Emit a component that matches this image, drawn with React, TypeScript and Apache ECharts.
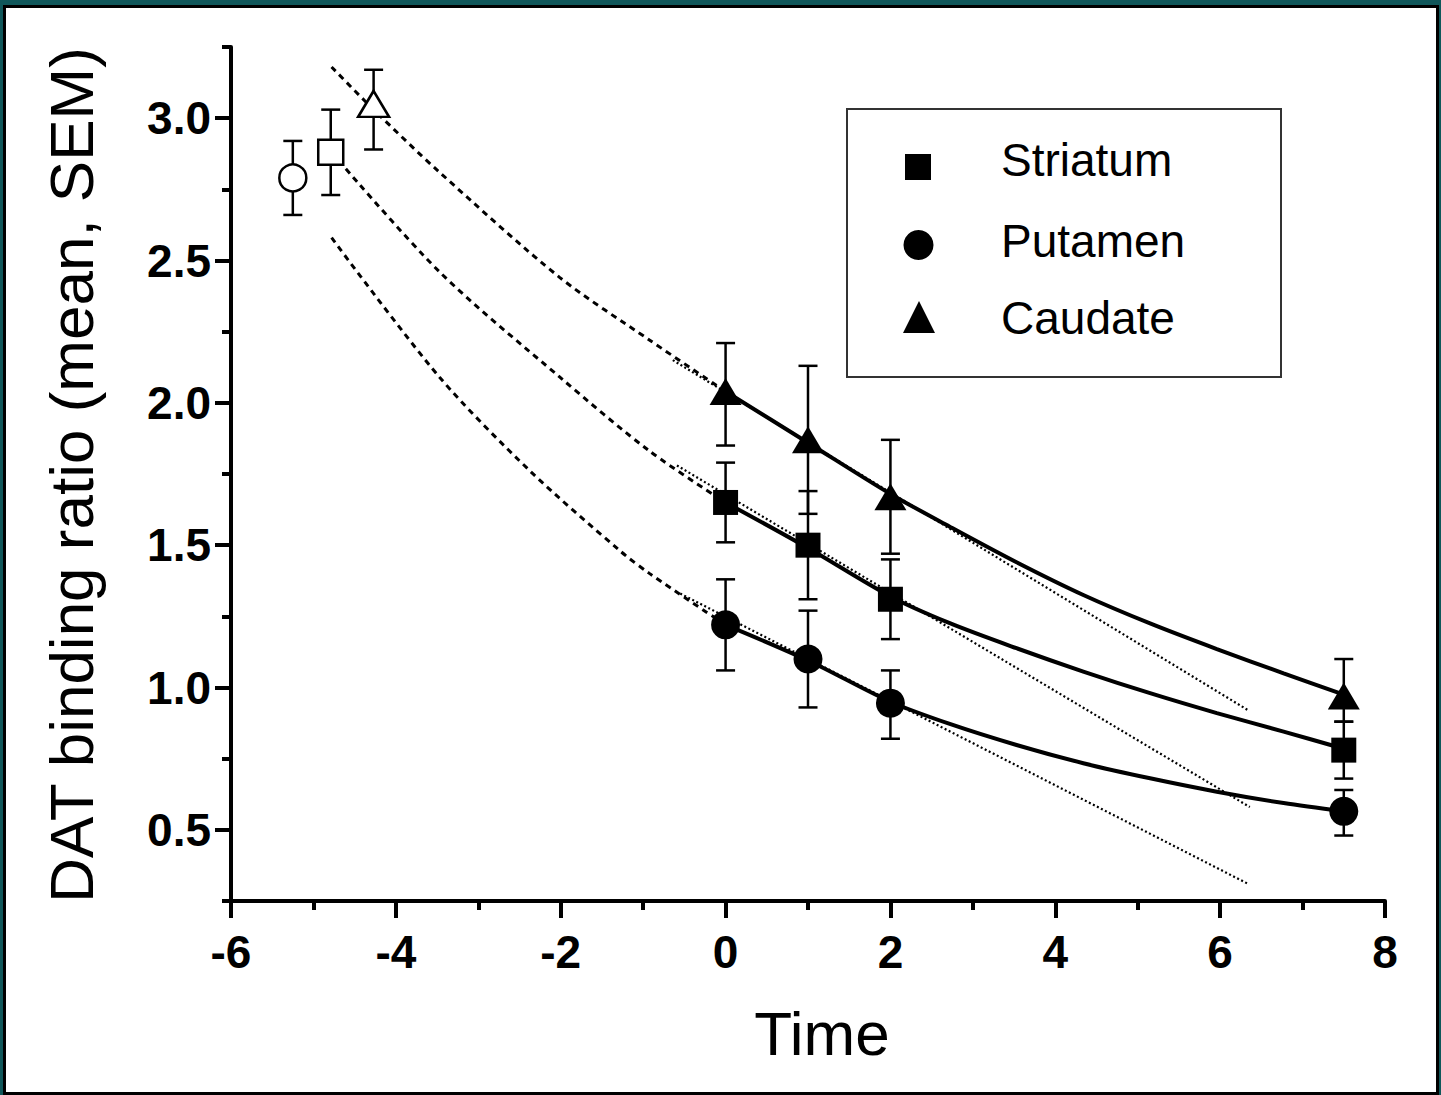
import React, { useEffect, useRef } from "react";
import * as echarts from "echarts";

// ---- observed data (mean and SEM limits) ----
const timePoints = [0, 1, 2, 7.5];
const striatumMean = [1.65, 1.5, 1.31, 0.78];
const striatumHigh = [1.79, 1.69, 1.45, 0.88];
const striatumLow = [1.51, 1.31, 1.17, 0.68];
const putamenMean = [1.22, 1.1, 0.945, 0.565];
const putamenHigh = [1.38, 1.27, 1.06, 0.64];
const putamenLow = [1.06, 0.93, 0.82, 0.48];
const caudateMean = [2.04, 1.87, 1.67, 0.97];
const caudateHigh = [2.21, 2.13, 1.87, 1.1];
const caudateLow = [1.85, 1.61, 1.47, 0.88];

// baseline (open symbols): order Striatum, Putamen, Caudate
const baselineTimes = [-4.79, -5.25, -4.27];
const baselineMean = [2.88, 2.79, 3.05];
const baselineHigh = [3.03, 2.92, 3.17];
const baselineLow = [2.73, 2.66, 2.89];

// fitted curves (solid) over the observed period
const fitTimes = [0, 1, 2, 2.72, 3.53, 4.34, 5.15, 5.96, 6.77, 7.5];
const caudateFit = [2.04, 1.86, 1.68, 1.565, 1.44, 1.325, 1.225, 1.135, 1.05, 0.975];
const striatumFit = [1.65, 1.49, 1.32, 1.226, 1.138, 1.056, 0.98, 0.91, 0.845, 0.785];
const putamenFit = [1.22, 1.095, 0.95, 0.872, 0.798, 0.734, 0.681, 0.634, 0.594, 0.565];

// back-extrapolated curves (dashed)
const caudateExtTimes = [-4.78, -4.27, -3.47, -2.01, -0.92, 0];
const caudateExt = [3.18, 3.03, 2.81, 2.44, 2.22, 2.04];
const striatumExtTimes = [-4.78, -3.47, -2.01, -0.92, 0];
const striatumExt = [2.88, 2.46, 2.09, 1.83, 1.65];
const putamenExtTimes = [-4.78, -3.47, -2.37, -1.28, -0.92, 0];
const putamenExt = [2.58, 2.09, 1.76, 1.48, 1.4, 1.22];

// linear fits (dotted)
const caudateLinTimes = [-0.64, 6.34];
const caudateLin = [2.15, 0.92];
const striatumLinTimes = [-0.59, 6.36];
const striatumLin = [1.78, 0.58];
const putamenLinTimes = [-0.55, 6.34];
const putamenLin = [1.33, 0.31];

// axes
const yMajorTicks = [0.5, 1.0, 1.5, 2.0, 2.5, 3.0];
const yMinorTicks = [0.25, 0.75, 1.25, 1.75, 2.25, 2.75, 3.25];

const FONT = "Liberation Sans, Arial, Helvetica, sans-serif";

const zip = (xs: number[], ys: number[]) => xs.map((x, i) => [x, ys[i]]);

export default function App() {
  const ref = useRef<HTMLDivElement>(null);

  useEffect(() => {
    if (!ref.current) return;
    const chart = echarts.init(ref.current, undefined, { renderer: "svg" });

    const errData: number[][] = [];
    timePoints.forEach((t, i) => {
      errData.push([t, striatumLow[i], striatumHigh[i]]);
      errData.push([t, putamenLow[i], putamenHigh[i]]);
      errData.push([t, caudateLow[i], caudateHigh[i]]);
    });
    baselineTimes.forEach((t, i) => {
      errData.push([t, baselineLow[i], baselineHigh[i]]);
    });

    const dashed = {
      type: "line",
      symbol: "none",
      smooth: 0.3,
      lineStyle: { color: "#000", width: 3, type: [6, 5] },
      z: 2,
      silent: true,
    };
    const dotted = {
      type: "line",
      symbol: "none",
      lineStyle: { color: "#000", width: 2.2, type: [2, 2.5] },
      z: 2,
      silent: true,
    };
    const solid = {
      type: "line",
      symbol: "none",
      smooth: 0.3,
      lineStyle: { color: "#000", width: 4 },
      z: 3,
      silent: true,
    };

    const filled = { color: "#000", opacity: 1 };
    const open = { color: "#fff", borderColor: "#000", borderWidth: 2.5, opacity: 1 };

    const option: any = {
      animation: false,
      backgroundColor: "transparent",
      grid: { left: 231, right: 56, top: 47, bottom: 194, containLabel: false },
      xAxis: {
        type: "value",
        min: -6,
        max: 8,
        interval: 2,
        axisLine: { show: true, onZero: false, lineStyle: { color: "#000", width: 4 } },
        axisTick: { show: true, length: 17, lineStyle: { color: "#000", width: 4 } },
        minorTick: { show: true, splitNumber: 2, length: 9, lineStyle: { color: "#000", width: 4 } },
        axisLabel: {
          color: "#000",
          fontSize: 46,
          fontWeight: "bold",
          fontFamily: FONT,
          margin: 28,
        },
        splitLine: { show: false },
        minorSplitLine: { show: false },
      },
      yAxis: [
        {
          type: "value",
          min: 0.25,
          max: 3.25,
          position: "left",
          axisLine: { show: true, onZero: false, lineStyle: { color: "#000", width: 4 } },
          axisTick: {
            show: true,
            customValues: yMajorTicks,
            length: 16,
            lineStyle: { color: "#000", width: 4 },
          },
          axisLabel: {
            customValues: yMajorTicks,
            formatter: (v: number) => v.toFixed(1),
            color: "#000",
            fontSize: 46,
            fontWeight: "bold",
            fontFamily: FONT,
            margin: 20,
          },
          splitLine: { show: false },
        },
        {
          type: "value",
          min: 0.25,
          max: 3.25,
          position: "left",
          offset: 0,
          axisLine: { show: false, onZero: false },
          axisTick: {
            show: true,
            customValues: yMinorTicks,
            length: 9,
            lineStyle: { color: "#000", width: 4 },
          },
          axisLabel: { show: false },
          splitLine: { show: false },
        },
      ],
      series: [
        { ...dashed, name: "Caudate extrapolation", data: zip(caudateExtTimes, caudateExt) },
        { ...dashed, name: "Striatum extrapolation", data: zip(striatumExtTimes, striatumExt) },
        { ...dashed, name: "Putamen extrapolation", data: zip(putamenExtTimes, putamenExt) },
        { ...dotted, name: "Caudate linear", data: zip(caudateLinTimes, caudateLin) },
        { ...dotted, name: "Striatum linear", data: zip(striatumLinTimes, striatumLin) },
        { ...dotted, name: "Putamen linear", data: zip(putamenLinTimes, putamenLin) },
        { ...solid, name: "Caudate fit", data: zip(fitTimes, caudateFit) },
        { ...solid, name: "Striatum fit", data: zip(fitTimes, striatumFit) },
        { ...solid, name: "Putamen fit", data: zip(fitTimes, putamenFit) },
        {
          type: "custom",
          name: "SEM",
          silent: true,
          z: 4,
          encode: { x: 0, y: [1, 2] },
          data: errData,
          renderItem: (params: any, api: any) => {
            const x = api.value(0);
            const lo = api.coord([x, api.value(1)]);
            const hi = api.coord([x, api.value(2)]);
            const hw = 9.5;
            const st = { stroke: "#000", lineWidth: 2.5 };
            return {
              type: "group",
              children: [
                { type: "line", shape: { x1: lo[0], y1: lo[1], x2: hi[0], y2: hi[1] }, style: st },
                { type: "line", shape: { x1: lo[0] - hw, y1: lo[1], x2: lo[0] + hw, y2: lo[1] }, style: st },
                { type: "line", shape: { x1: hi[0] - hw, y1: hi[1], x2: hi[0] + hw, y2: hi[1] }, style: st },
              ],
            };
          },
        },
        {
          type: "scatter",
          name: "Striatum",
          symbol: "rect",
          symbolSize: 25,
          z: 5,
          itemStyle: filled,
          data: zip(timePoints, striatumMean),
        },
        {
          type: "scatter",
          name: "Putamen",
          symbol: "circle",
          symbolSize: 29,
          z: 5,
          itemStyle: filled,
          data: zip(timePoints, putamenMean),
        },
        {
          type: "scatter",
          name: "Caudate",
          symbol: "triangle",
          symbolSize: [32, 27],
          z: 5,
          itemStyle: filled,
          data: zip(timePoints, caudateMean),
        },
        {
          type: "scatter",
          name: "Striatum baseline",
          symbol: "rect",
          symbolSize: 25,
          z: 5,
          itemStyle: open,
          data: [[baselineTimes[0], baselineMean[0]]],
        },
        {
          type: "scatter",
          name: "Putamen baseline",
          symbol: "circle",
          symbolSize: 27,
          z: 5,
          itemStyle: open,
          data: [[baselineTimes[1], baselineMean[1]]],
        },
        {
          type: "scatter",
          name: "Caudate baseline",
          symbol: "triangle",
          symbolSize: [31, 26],
          z: 5,
          itemStyle: open,
          data: [[baselineTimes[2], baselineMean[2]]],
        },
      ],
      graphic: [
        {
          type: "text",
          x: 71,
          y: 475,
          rotation: Math.PI / 2,
          style: {
            text: "DAT binding ratio (mean, SEM)",
            fill: "#000",
            font: `62px ${FONT}`,
            align: "center",
            verticalAlign: "middle",
          },
        },
        {
          type: "text",
          x: 822,
          y: 1033,
          style: {
            text: "Time",
            fill: "#000",
            font: `62px ${FONT}`,
            align: "center",
            verticalAlign: "middle",
          },
        },
        {
          type: "rect",
          shape: { x: 847, y: 109, width: 434, height: 268 },
          style: { fill: "#fff", stroke: "#333", lineWidth: 2 },
          z: 10,
        },
        {
          type: "rect",
          shape: { x: 905, y: 154, width: 26, height: 26 },
          style: { fill: "#000" },
          z: 11,
        },
        {
          type: "circle",
          shape: { cx: 918.5, cy: 245, r: 15 },
          style: { fill: "#000" },
          z: 11,
        },
        {
          type: "polygon",
          shape: { points: [[919, 301], [903, 333], [935, 333]] },
          style: { fill: "#000" },
          z: 11,
        },
        {
          type: "text",
          x: 1001,
          y: 160,
          z: 11,
          style: { text: "Striatum", fill: "#000", font: `46px ${FONT}`, align: "left", verticalAlign: "middle" },
        },
        {
          type: "text",
          x: 1001,
          y: 241,
          z: 11,
          style: { text: "Putamen", fill: "#000", font: `46px ${FONT}`, align: "left", verticalAlign: "middle" },
        },
        {
          type: "text",
          x: 1001,
          y: 318,
          z: 11,
          style: { text: "Caudate", fill: "#000", font: `46px ${FONT}`, align: "left", verticalAlign: "middle" },
        },
      ],
    };

    chart.setOption(option);
    return () => chart.dispose();
  }, []);

  return (
    <div
      style={{
        position: "absolute",
        left: 0,
        top: 0,
        width: 1441,
        height: 1095,
        background: "#10575a",
        overflow: "hidden",
      }}
    >
      <div
        style={{
          position: "absolute",
          left: 3,
          top: 5,
          right: 2,
          bottom: 0,
          border: "3px solid #000",
          background: "#fff",
          boxSizing: "border-box",
        }}
      />
      <div ref={ref} style={{ position: "absolute", left: 0, top: 0, width: 1441, height: 1095 }} />
    </div>
  );
}
